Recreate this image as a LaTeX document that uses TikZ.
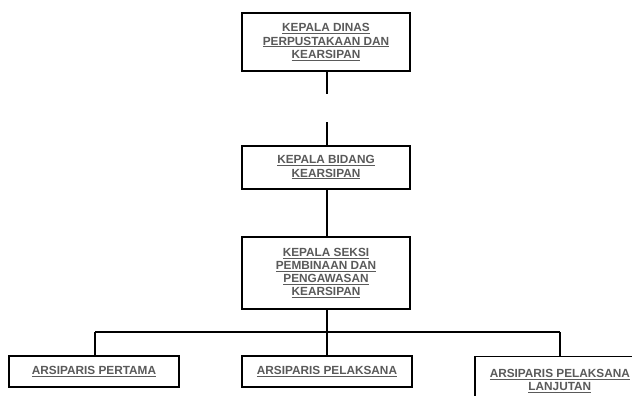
\documentclass[tikz,border=0pt]{standalone}
\usepackage{fontspec}
\setsansfont{Liberation Sans}
\definecolor{labelgray}{HTML}{5A5A5A}
\begin{document}
\begin{tikzpicture}[x=1pt,y=-1pt,
  orgbox/.style={draw=black,line width=1.6pt,fill=white,rectangle,
    align=center,inner sep=0pt,
    font=\sffamily\bfseries\fontsize{11.8}{13.2}\selectfont,text=labelgray},
  link/.style={draw=black,line width=2.2pt}]
  \useasboundingbox[fill=white] (0,0) rectangle (632,396);
  \newcommand{\ul}[1]{\underline{#1}}

  % Top management
  \node[orgbox,minimum width=168pt,minimum height=58pt] (kadis) at (326,42)
    {\ul{KEPALA DINAS}\\\ul{PERPUSTAKAAN DAN}\\\ul{KEARSIPAN}};
  \node[orgbox,minimum width=168pt,minimum height=43pt] (kabid) at (326,167.5)
    {\ul{KEPALA BIDANG}\\\ul{KEARSIPAN}};
  \node[orgbox,minimum width=168pt,minimum height=72pt] (kasi) at (326,273)
    {\ul{KEPALA SEKSI}\\\ul{PEMBINAAN DAN}\\\ul{PENGAWASAN}\\\ul{KEARSIPAN}};

  % Staff level
  \node[orgbox,minimum width=170pt,minimum height=31pt] (pertama) at (94,371.5)
    {\ul{ARSIPARIS PERTAMA}};
  \node[orgbox,minimum width=170pt,minimum height=31pt] (pelaksana) at (327,371.5)
    {\ul{ARSIPARIS PELAKSANA}};
  \begin{scope}
    \clip (0,0) rectangle (632,396);
    \node[orgbox,minimum width=170pt,minimum height=50pt,anchor=north west]
      (lanjutan) at (474,355.5)
      {\ul{ARSIPARIS PELAKSANA}\\\ul{LANJUTAN}};
  \end{scope}

  % Connectors
  \coordinate (gapA) at (327,94);
  \coordinate (gapB) at (327,122);
  \coordinate (busL) at (95,332);
  \coordinate (busM) at (327,332);
  \coordinate (busR) at (560,332);
  \draw[link] (kadis.south -| gapA) -- (gapA);
  \draw[link] (gapB) -- (kabid.north -| gapB);
  \draw[link] (kabid.south -| gapA) -- (kasi.north -| gapA);
  \draw[link] (kasi.south -| busM) -- (busM);
  \draw[link] (busL) -- (busR);
  \draw[link] (busL) -- (pertama.north -| busL);
  \draw[link] (busM) -- (pelaksana.north -| busM);
  \draw[link] (busR) -- (lanjutan.north -| busR);
\end{tikzpicture}
\end{document}
